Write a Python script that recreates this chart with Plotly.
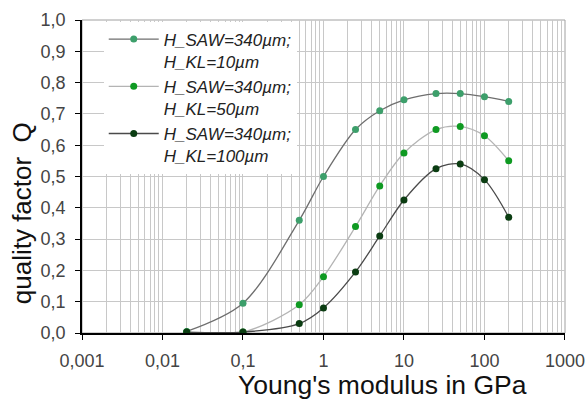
import plotly.graph_objects as go

x_gpa = [0.02, 0.1, 0.5, 1, 2.5, 5, 10, 25, 50, 100, 200]
q_kl10 = [0.005, 0.095, 0.36, 0.50, 0.65, 0.71, 0.745, 0.765, 0.765, 0.755, 0.74]
q_kl50 = [0.003, 0.003, 0.09, 0.18, 0.34, 0.47, 0.575, 0.65, 0.66, 0.63, 0.55]
q_kl100 = [0.003, 0.003, 0.03, 0.08, 0.195, 0.31, 0.425, 0.525, 0.54, 0.49, 0.37]

names = ["H_SAW=340µm;<br>H_KL=10µm", "H_SAW=340µm;<br>H_KL=50µm", "H_SAW=340µm;<br>H_KL=100µm"]
series = [q_kl10, q_kl50, q_kl100]
marker_colors = ["#3d9f6b", "#0f9a22", "#0b3d12"]
line_colors = ["#6e6e6e", "#b4b4b4", "#4a4a4a"]

x_tickvals = [0.001, 0.01, 0.1, 1, 10, 100, 1000]
x_ticktext = ["0,001", "0,01", "0,1", "1", "10", "100", "1000"]
y_tickvals = [i / 10 for i in range(11)]
y_ticktext = [f"{v:.1f}".replace(".", ",") for v in y_tickvals]
minor_vals = [m * 10 ** e for e in range(-3, 3) for m in range(2, 10)]

fig = go.Figure()
for name, ys, mc, lc in zip(names, series, marker_colors, line_colors):
    fig.add_trace(go.Scatter(
        x=x_gpa, y=ys, name=name, mode="lines+markers",
        line=dict(color=lc, width=1.3, shape="spline", smoothing=0.9),
        marker=dict(color=mc, size=7),
    ))

fig.update_layout(
    width=586, height=403,
    margin=dict(l=82, r=21, t=20, b=70),
    paper_bgcolor="white", plot_bgcolor="white",
    font=dict(family="Liberation Sans, Arial, sans-serif", color="#222"),
    showlegend=True,
    legend=dict(
        x=0.045, y=0.995, xanchor="left", yanchor="top",
        bgcolor="white", borderwidth=0, valign="top",
        font=dict(size=17, color="#222", style="italic"),
        itemwidth=50,
    ),
    xaxis=dict(
        type="log", range=[-3, 3.0005], automargin=False,
        tickvals=x_tickvals, ticktext=x_ticktext,
        tickfont=dict(size=18, color="#444"),
        ticks="outside", ticklen=5, tickcolor="black",
        ticklabelstandoff=6,
        showline=True, linecolor="black", linewidth=1.5,
        showgrid=True, gridcolor="#c8c8c8", gridwidth=1,
        minor=dict(tickvals=minor_vals, showgrid=True, gridcolor="#c8c8c8", gridwidth=1, ticks=""),
        zeroline=False,
    ),
    yaxis=dict(
        range=[0, 1.0], automargin=False,
        tickvals=y_tickvals, ticktext=y_ticktext,
        tickfont=dict(size=18, color="#444"),
        ticks="outside", ticklen=5, tickcolor="black",
        ticklabelstandoff=6,
        showline=True, linecolor="black", linewidth=1.5,
        showgrid=True, gridcolor="#c8c8c8", gridwidth=1,
        zeroline=False,
    ),
    annotations=[
        dict(text="Young's modulus in GPa", xref="paper", yref="paper", x=0.623, y=-0.166,
             xanchor="center", yanchor="middle", showarrow=False,
             font=dict(size=26.5, color="#111")),
        dict(text="quality factor  Q", xref="paper", yref="paper", x=-0.124, y=0.383,
             xanchor="center", yanchor="middle", showarrow=False, textangle=-90,
             font=dict(size=26, color="#111")),
    ],
    shapes=[dict(type="rect", xref="paper", yref="paper", x0=0, x1=1, y0=0, y1=1,
                 line=dict(color="#a0a0a0", width=1), layer="below")],
)

fig.write_html("out.html")
